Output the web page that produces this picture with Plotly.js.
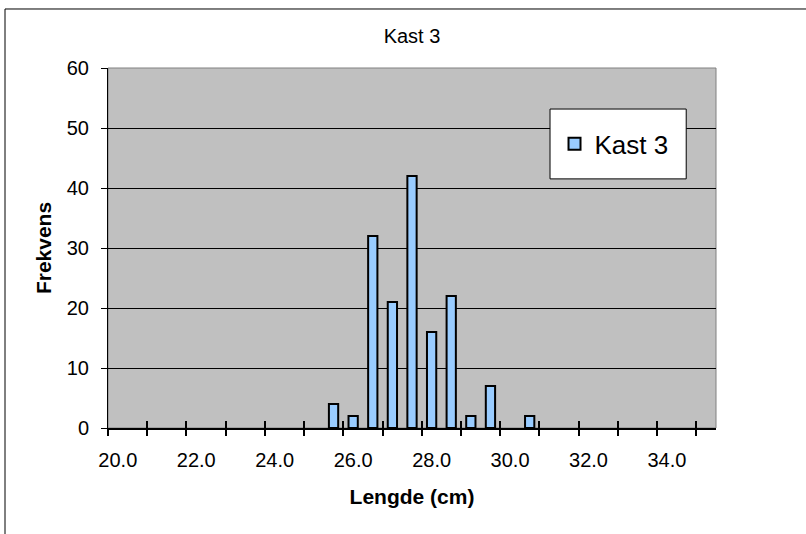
<!DOCTYPE html>
<html>
<head>
<meta charset="utf-8">
<script src="https://cdn.plot.ly/plotly-3.0.1.min.js"></script>
<style>html,body{margin:0;padding:0;background:#fff;}#chart{width:806px;height:534px;}</style>
</head>
<body>
<div id="chart"></div>
<script>
// Data
var seriesName = "Kast 3";
var lengths = [25.5, 26.0, 26.5, 27.0, 27.5, 28.0, 28.5, 29.0, 29.5, 30.5];
var counts  = [4, 2, 32, 21, 42, 16, 22, 2, 7, 2];
var xTickValues = [20, 22, 24, 26, 28, 30, 32, 34];
var xTickLabels = ["20.0", "22.0", "24.0", "26.0", "28.0", "30.0", "32.0", "34.0"];
var yTickValues = [0, 10, 20, 30, 40, 50, 60];

// Category boundaries for tick marks (every two 0.5 cm classes)
var boundaries = [];
xTickValues.forEach(function (v) { boundaries.push(v - 0.25); boundaries.push(v + 0.75); });

var FONT = "Liberation Sans, Arial, sans-serif";
var xRange = [19.75, 35.25];

var traces = [
  {
    type: "bar", name: seriesName, x: lengths, y: counts,
    marker: { color: "#99CCFF", line: { color: "#000000", width: 2 } },
    hoverinfo: "x+y"
  },
  { type: "scatter", mode: "none", x: lengths, y: counts, xaxis: "x2", yaxis: "y", showlegend: false, hoverinfo: "skip" },
  { type: "scatter", mode: "none", x: lengths, y: counts, xaxis: "x3", yaxis: "y", showlegend: false, hoverinfo: "skip" }
];

var tickAxisBase = {
  overlaying: "x", anchor: "y", range: xRange, type: "linear",
  tickmode: "array", tickvals: boundaries, showticklabels: false,
  ticklen: 7, tickwidth: 2, tickcolor: "#000000",
  showgrid: false, zeroline: false, showline: false, fixedrange: true
};

var layout = {
  width: 806, height: 534,
  margin: { l: 108, r: 90, t: 68, b: 106, pad: 0 },
  paper_bgcolor: "#FFFFFF",
  plot_bgcolor: "#C0C0C0",
  font: { family: FONT, color: "#000000", size: 20 },
  title: { text: "Kast 3", font: { family: FONT, size: 20, color: "#000000" },
           xref: "paper", x: 0.5, xanchor: "center", yref: "container", y: 0.932, yanchor: "middle" },
  bargap: 0.527,
  showlegend: true,
  legend: { x: 0.7344, xanchor: "left", y: 0.789, yanchor: "middle",
            bgcolor: "rgba(0,0,0,0)", borderwidth: 0,
            font: { family: FONT, size: 26, color: "#000000" } },
  xaxis: {
    type: "linear", range: xRange, tickmode: "array", tickvals: xTickValues, ticktext: xTickLabels,
    ticks: "", showline: true, linecolor: "#000000", linewidth: 2,
    showgrid: false, zeroline: false, ticklabelstandoff: 13,
    tickfont: { family: FONT, size: 20, color: "#000000" },
    title: { text: "<b>Lengde (cm)</b>", font: { family: FONT, size: 21, color: "#000000" }, standoff: 19 },
    fixedrange: true
  },
  xaxis2: Object.assign({}, tickAxisBase, { ticks: "outside" }),
  xaxis3: Object.assign({}, tickAxisBase, { ticks: "inside" }),
  yaxis: {
    range: [0, 60], tickmode: "array", tickvals: yTickValues,
    ticks: "outside", ticklen: 6, tickwidth: 1, tickcolor: "#000000",
    showline: true, linecolor: "#000000", linewidth: 1,
    showgrid: true, gridcolor: "#000000", gridwidth: 1, zeroline: false,
    ticklabelstandoff: 8,
    tickfont: { family: FONT, size: 20, color: "#000000" },
    title: { text: "<b>Frekvens</b>", font: { family: FONT, size: 21, color: "#000000" }, standoff: 9 },
    fixedrange: true
  },
  shapes: [
    // plot area frame
    { type: "rect", xref: "paper", yref: "paper", x0: 0, x1: 1, y0: 0, y1: 1,
      line: { color: "#808080", width: 1 }, fillcolor: "rgba(0,0,0,0)", layer: "below" },
    // outer chart frame (cropped at right/bottom)
    { type: "rect", xref: "paper", yref: "paper", x0: -0.1694, x1: 1.3, y0: -0.4, y1: 1.1639,
      line: { color: "#000000", width: 1 }, fillcolor: "rgba(0,0,0,0)", layer: "above" },
    // legend frame
    { type: "rect", xref: "paper", yref: "paper", x0: 0.727, x1: 0.951, y0: 0.692, y1: 0.886,
      line: { color: "#000000", width: 1 }, fillcolor: "#FFFFFF", layer: "above" }
  ]
};

Plotly.newPlot("chart", traces, layout, { displayModeBar: false, staticPlot: true });
</script>
</body>
</html>
